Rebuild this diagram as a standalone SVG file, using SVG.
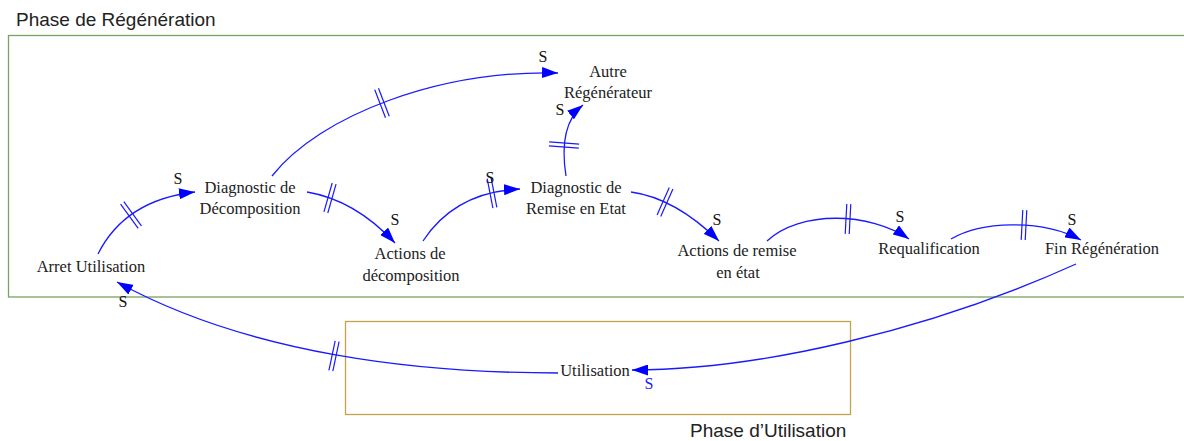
<svg xmlns="http://www.w3.org/2000/svg" xmlns:xlink="http://www.w3.org/1999/xlink" width="1184" height="441" viewBox="0 0 1184 441">
<style>
.frame-g{fill:none;stroke:#7aa262;stroke-width:1.3}
.frame-o{fill:none;stroke:#c9a14a;stroke-width:1.3}
.title{font-family:"Liberation Sans",Arial,sans-serif;font-size:19px;fill:#222}
.node{font-family:"Liberation Serif","Times New Roman",serif;font-size:16.5px;fill:#222;text-anchor:middle}
.pol{font-family:"Liberation Serif","Times New Roman",serif;font-size:16px;fill:#111;text-anchor:middle}
.pol.blue{fill:#2020ff}
.link{fill:none;stroke:#1a1aff;stroke-width:1.3;marker-end:url(#arr)}
.hash line{stroke:#1a1aff;stroke-width:1.2}
</style>
<defs>
<marker id="arr" markerUnits="userSpaceOnUse" markerWidth="17" markerHeight="11" refX="16" refY="5.5" orient="auto">
<path d="M0,0 L16,5.5 L0,11 z" fill="#0000ff"/>
</marker>
<g id="hash" class="hash"><line x1="-2" y1="-15" x2="-2" y2="15"/><line x1="2" y1="-15" x2="2" y2="15"/></g>
</defs>

<g id="frames">
<rect class="frame-g" x="8.5" y="35.5" width="1185" height="261.5"/>
<text class="title" x="16" y="26">Phase de Régénération</text>
<rect class="frame-o" x="345.5" y="321.5" width="505" height="93"/>
<text class="title" x="690" y="437">Phase d’Utilisation</text>
</g>

<g id="connectors">
<path class="link" d="M98,254 Q125,200 195,192"/>
<use xlink:href="#hash" transform="translate(131,215) rotate(-36)"/>
<text class="pol" x="178" y="184">S</text>

<path class="link" d="M307,192 Q355,200 395,243"/>
<use xlink:href="#hash" transform="translate(330,198) rotate(16)"/>
<text class="pol" x="395" y="225">S</text>

<path class="link" d="M272,176 C320,115 440,70 558,73"/>
<use xlink:href="#hash" transform="translate(382,103) rotate(-21)"/>
<text class="pol" x="543" y="62">S</text>

<path class="link" d="M423,241 Q455,192 520,189"/>
<use xlink:href="#hash" transform="translate(492,193) rotate(-11)"/>
<text class="pol" x="490" y="183">S</text>

<path class="link" d="M566,176 Q558,125 583,105"/>
<use xlink:href="#hash" transform="translate(564,145) rotate(-86)"/>
<text class="pol" x="560" y="115">S</text>

<path class="link" d="M631,192 Q675,198 719,241"/>
<use xlink:href="#hash" transform="translate(665,202) rotate(24)"/>
<text class="pol" x="717" y="225">S</text>

<path class="link" d="M767,241 C800,210 870,212 909,239"/>
<use xlink:href="#hash" transform="translate(848,219) rotate(3)"/>
<text class="pol" x="900" y="222">S</text>

<path class="link" d="M951,239 C980,222 1040,218 1081,240"/>
<use xlink:href="#hash" transform="translate(1024,225) rotate(3)"/>
<text class="pol" x="1072" y="225">S</text>

<path class="link" d="M1076,264 C930,330 760,370 632,370"/>
<text class="pol blue" x="649" y="389">S</text>

<path class="link" d="M558,373 C420,373 250,355 117,282"/>
<use xlink:href="#hash" transform="translate(334,356) rotate(12)"/>
<text class="pol" x="123" y="307">S</text>
</g>

<g id="n-arret"><text class="node" x="91" y="272">Arret Utilisation</text></g>
<g id="n-diagdec"><text class="node" x="250" y="193">Diagnostic de</text><text class="node" x="250" y="214">Décomposition</text></g>
<g id="n-actdec"><text class="node" x="410" y="259">Actions de</text><text class="node" x="411" y="281">décomposition</text></g>
<g id="n-autre"><text class="node" x="608" y="77">Autre</text><text class="node" x="608" y="98">Régénérateur</text></g>
<g id="n-diagrem"><text class="node" x="576" y="193">Diagnostic de</text><text class="node" x="576" y="214">Remise en Etat</text></g>
<g id="n-actrem"><text class="node" x="737" y="256">Actions de remise</text><text class="node" x="738" y="278">en état</text></g>
<g id="n-requal"><text class="node" x="929" y="254">Requalification</text></g>
<g id="n-fin"><text class="node" x="1102" y="254">Fin Régénération</text></g>
<g id="n-util"><text class="node" x="595" y="376">Utilisation</text></g>
</svg>
